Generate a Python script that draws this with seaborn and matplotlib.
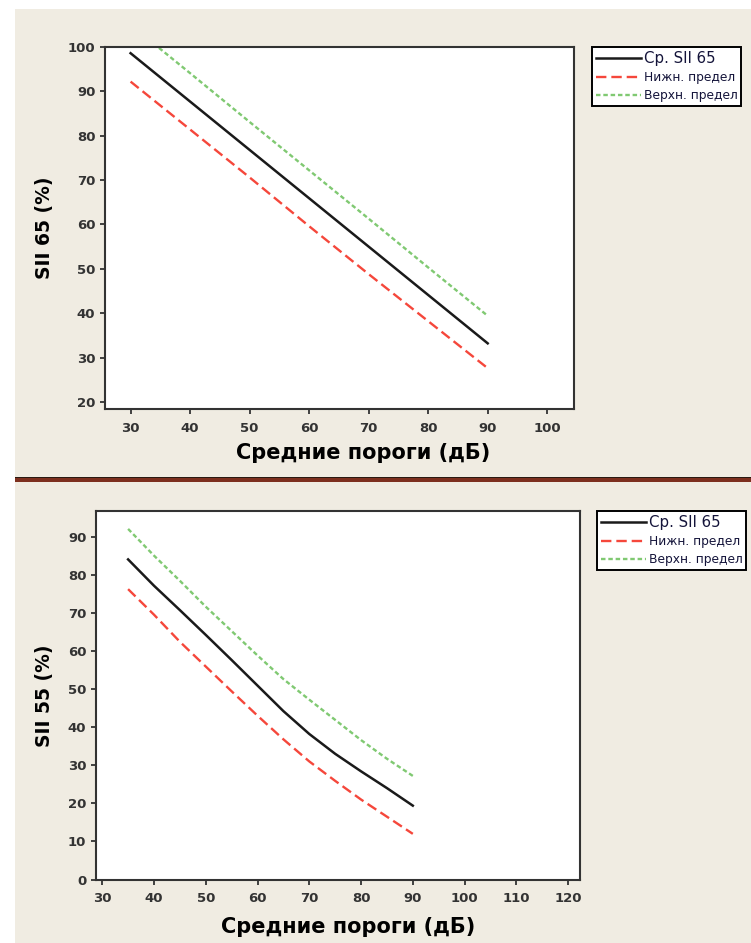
import numpy as np
import pandas as pd
import matplotlib
matplotlib.use("Agg")
import matplotlib.pyplot as plt
from matplotlib.patches import Rectangle
import seaborn as sns

# values
x_top = [30, 40, 50, 60, 70, 80, 90]
mean_65 = [98.6, 87.7, 76.8, 65.9, 55.0, 44.1, 33.2]
lower_65 = [92.2, 81.4, 70.6, 59.6, 48.8, 38.2, 27.6]
upper_65 = [105.0, 94.1, 83.1, 72.2, 61.3, 50.3, 39.4]

x_bot = [35, 40, 45, 50, 55, 60, 65, 70, 75, 80, 85, 90]
mean_55 = [84.0, 77.1, 70.7, 64.2, 57.6, 50.9, 44.2, 38.2, 33.0, 28.4, 24.0, 19.4]
lower_55 = [76.2, 69.5, 62.4, 55.9, 49.4, 43.0, 36.8, 31.0, 25.9, 21.0, 16.5, 12.0]
upper_55 = [92.0, 85.0, 78.4, 71.6, 65.2, 58.8, 52.6, 47.2, 41.9, 36.6, 31.7, 27.2]

legend_labels = ["Ср. SII 65", "Нижн. предел", "Верхн. предел"]
xlabel = "Средние пороги (дБ)"
ylabel_top = "SII 65 (%)"
ylabel_bot = "SII 55 (%)"

W, H = 751, 943
BEIGE = "#F0ECE2"
TXT = "#333333"

plt.rcParams["font.family"] = ["DejaVu Sans"]

fig = plt.figure(figsize=(W / 100, H / 100), dpi=100)
fig.patch.set_facecolor("white")


def px_rect(x0, y0, x1, y1, color):
    # rectangle in pixel coords measured from the top-left corner
    fig.patches.append(Rectangle((x0 / W, 1 - y1 / H), (x1 - x0) / W, (y1 - y0) / H,
                                 transform=fig.transFigure, facecolor=color,
                                 edgecolor="none", zorder=-10))


px_rect(15, 9, W, H, BEIGE)
px_rect(15, 476.5, W, 478, "#2a1a12")
px_rect(15, 478, W, 481.5, "#7d2f1e")


def make_axes(left, top, right, bottom):
    return fig.add_axes([left / W, 1 - bottom / H, (right - left) / W, (bottom - top) / H])


def draw_panel(ax, xs, mean, low, up, xlim, ylim, xticks, yticks, ylab, xl_pos, yl_pos, leg_anchor):
    df = pd.DataFrame({"x": xs, "mean": mean, "low": low, "up": up})
    sns.lineplot(data=df, x="x", y="mean", ax=ax, color="#1a1a1a", lw=1.8)
    sns.lineplot(data=df, x="x", y="low", ax=ax, color="#F5473B", lw=1.7,
                 linestyle=(0, (4.4, 2.1)))
    sns.lineplot(data=df, x="x", y="up", ax=ax, color="#80C972", lw=1.7,
                 linestyle=(0, (1.9, 1.2)))

    ax.set_facecolor("white")
    ax.set_xlim(*xlim)
    ax.set_ylim(*ylim)
    ax.set_xticks(xticks)
    ax.set_yticks(yticks)
    for s in ax.spines.values():
        s.set_color("#333333")
        s.set_linewidth(1.5)
    ax.tick_params(direction="out", length=3.5, width=1.3, color="#333333",
                   labelcolor=TXT, labelsize=9.5)
    ax.tick_params(axis="x", pad=5.5)
    ax.tick_params(axis="y", pad=3.5)
    for t in ax.get_xticklabels() + ax.get_yticklabels():
        t.set_fontweight("bold")

    ax.set_xlabel(xlabel, fontsize=15, fontweight="bold", color="black", va="center")
    ax.xaxis.set_label_coords(*xl_pos)
    ax.set_ylabel(ylab, fontsize=13.5, fontweight="bold", color="black", va="center")
    ax.yaxis.set_label_coords(*yl_pos)

    lines = ax.get_lines()[:3]
    leg = ax.legend(lines, legend_labels, loc="upper left",
                    bbox_to_anchor=(leg_anchor[0] / W, 1 - leg_anchor[1] / H),
                    bbox_transform=fig.transFigure, borderaxespad=0,
                    frameon=True, fancybox=False, framealpha=1,
                    prop={"size": 8.8}, handlelength=3.7, handletextpad=0.25,
                    borderpad=0.3, labelspacing=0.42)
    leg.get_frame().set_edgecolor("black")
    leg.get_frame().set_linewidth(1.4)
    for i, t in enumerate(leg.get_texts()):
        t.set_color("#14143a")
        if i == 0:
            t.set_fontsize(10.8)


ax1 = make_axes(105, 47, 574, 409)
draw_panel(ax1, x_top, mean_65, lower_65, upper_65,
           (25.7, 104.5), (18.4, 100), range(30, 101, 10), range(20, 101, 10),
           ylabel_top, (0.55, -0.1215), (-0.128, 0.5), (592, 47))

ax2 = make_axes(96, 511, 579.5, 880)
draw_panel(ax2, x_bot, mean_55, lower_55, upper_55,
           (28.8, 122.2), (-0.11, 96.7), range(30, 121, 10), range(0, 91, 10),
           ylabel_bot, (0.521, -0.1274), (-0.1055, 0.5), (597, 511))

fig.savefig("out.png", dpi=100)
